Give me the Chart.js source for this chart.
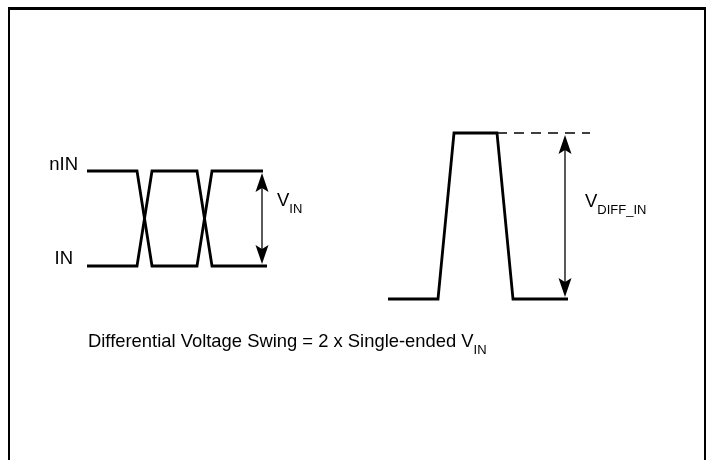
<!DOCTYPE html>
<html>
<head>
<meta charset="utf-8">
<script src="https://cdn.jsdelivr.net/npm/chart.js@4"></script>
<style>
  html, body { margin: 0; padding: 0; background: #fff; }
  #wrap { position: relative; width: 711px; height: 460px; }
  #frame {
    position: absolute; left: 8px; top: 7px; width: 694px; height: 460px;
    border-top: 3px solid #000; border-left: 2px solid #000; border-right: 2px solid #000;
  }
  #c { position: absolute; left: 0; top: 0; }
</style>
</head>
<body>
<div id="wrap">
  <div id="frame"></div>
  <canvas id="c" width="711" height="460"></canvas>
</div>
<script>
// Single-ended inputs (time, level)
const nInTime = [87, 137, 152, 197, 212, 263];
const nInLevel = [171, 171, 266, 266, 171, 171];
const inTime = [87, 137, 152, 197, 212, 267];
const inLevel = [266, 266, 171, 171, 266, 266];

// Differential signal
const diffTime = [388, 438, 454, 497, 513, 568];
const diffLevel = [299, 299, 133, 133, 299, 299];
const refTime = [497, 590];
const refLevel = [133, 133];

// Amplitude arrows [x, top, bottom]
const vinArrow = [262, 171, 266];
const diffArrow = [565, 133, 299];

// Text labels
const labelText = ["nIN", "IN"];
const labelX = [78, 73];
const labelY = [170, 264];

const toPts = (xs, ys) => xs.map((x, i) => ({ x, y: ys[i] }));

const FONT = "'Liberation Sans', Arial, sans-serif";

// Draws arrow heads and text through the scales
const annotate = {
  id: "annotate",
  afterDatasetsDraw(chart) {
    const ctx = chart.ctx;
    const xs = chart.scales.x;
    const ys = chart.scales.y;

    const head = (px, py, dir) => {
      ctx.beginPath();
      ctx.moveTo(px, py);
      ctx.lineTo(px - 6.5, py + dir * 19);
      ctx.lineTo(px, py + dir * 15);
      ctx.lineTo(px + 6.5, py + dir * 19);
      ctx.closePath();
      ctx.fill();
    };

    ctx.save();
    ctx.fillStyle = "#000";
    ctx.strokeStyle = "#000";
    [vinArrow, diffArrow].forEach((a) => {
      const px = xs.getPixelForValue(a[0]);
      const top = ys.getPixelForValue(a[1]);
      const bot = ys.getPixelForValue(a[2]);
      ctx.lineWidth = 1.3;
      ctx.beginPath();
      ctx.moveTo(px, top + 10);
      ctx.lineTo(px, bot - 10);
      ctx.stroke();
      head(px, top + 2, 1);
      head(px, bot - 2, -1);
    });

    ctx.font = "18.5px " + FONT;
    ctx.textBaseline = "alphabetic";
    ctx.textAlign = "right";
    labelText.forEach((t, i) => {
      ctx.fillText(t, xs.getPixelForValue(labelX[i]), ys.getPixelForValue(labelY[i]));
    });

    // V with subscript
    const sub = (x, y, main, subText) => {
      const px = xs.getPixelForValue(x);
      const py = ys.getPixelForValue(y);
      ctx.textAlign = "left";
      ctx.font = "18.5px " + FONT;
      ctx.fillText(main, px, py);
      const w = ctx.measureText(main).width;
      ctx.font = "13px " + FONT;
      ctx.fillText(subText, px + w, py + 7);
    };
    sub(277, 206, "V", "IN");
    sub(585, 207, "V", "DIFF_IN");

    // caption
    const cx = xs.getPixelForValue(88);
    const cy = ys.getPixelForValue(347);
    ctx.textAlign = "left";
    ctx.font = "18.4px " + FONT;
    const cap = "Differential Voltage Swing = 2 x Single-ended V";
    ctx.fillText(cap, cx, cy);
    const cw = ctx.measureText(cap).width;
    ctx.font = "13px " + FONT;
    ctx.fillText("IN", cx + cw, cy + 7);
    ctx.restore();
  }
};

const wave = (data, extra) => Object.assign({
  data,
  showLine: true,
  borderColor: "#000",
  borderWidth: 2.8,
  pointRadius: 0,
  tension: 0,
  fill: false,
  borderJoinStyle: "miter",
}, extra || {});

new Chart(document.getElementById("c"), {
  type: "scatter",
  data: {
    datasets: [
      wave(toPts(nInTime, nInLevel)),
      wave(toPts(inTime, inLevel)),
      wave(toPts(diffTime, diffLevel)),
      wave(toPts(refTime, refLevel), { borderWidth: 1.4, borderDash: [10, 7] }),
    ],
  },
  options: {
    responsive: false,
    animation: false,
    layout: { padding: 0 },
    plugins: { legend: { display: false }, tooltip: { enabled: false } },
    scales: {
      x: { type: "linear", min: 0, max: 711, display: false },
      y: { type: "linear", min: 0, max: 460, reverse: true, display: false },
    },
  },
  plugins: [annotate],
});
</script>
</body>
</html>
